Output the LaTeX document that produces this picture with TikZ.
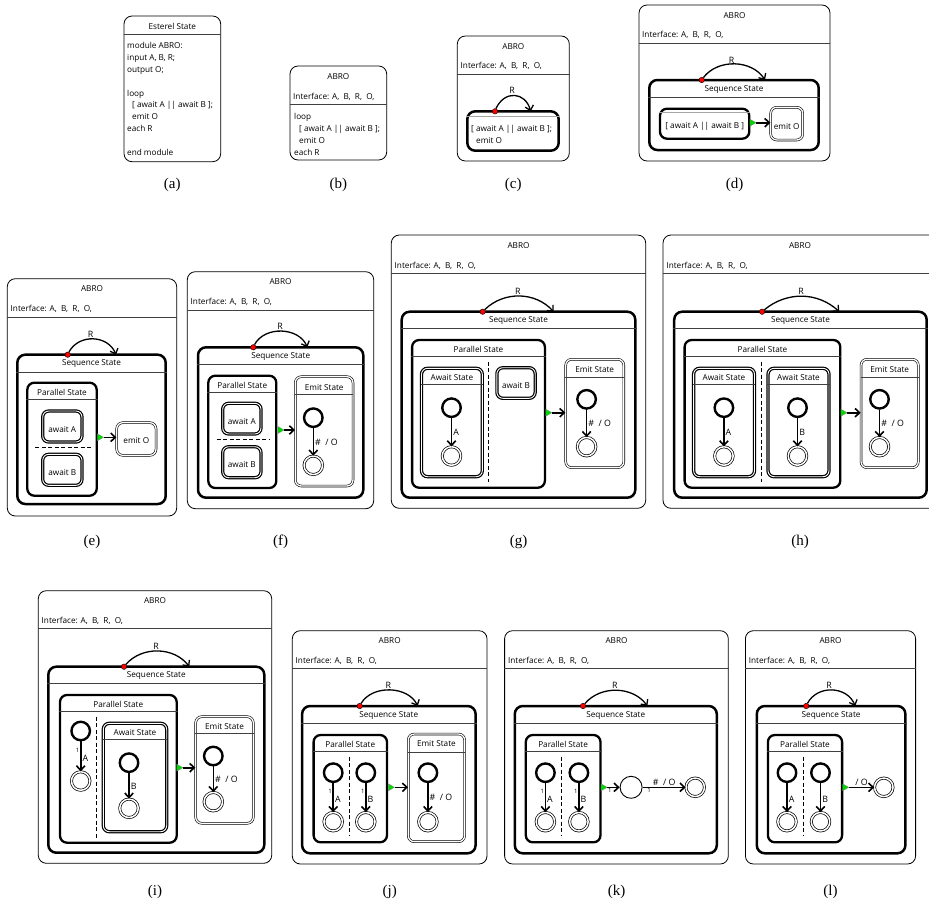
\documentclass[tikz,border=0pt]{standalone}
\usepackage{fontspec}
\newfontfamily\uifont{Open Sans}
\newfontfamily\capfont{Liberation Serif}
\usetikzlibrary{shapes.geometric, arrows.meta, positioning, fit, calc}

\begin{document}
\begin{tikzpicture}[x=1pt, y=-1pt,
    outer/.style={draw, line width=0.8pt, rounded corners=8pt, inner sep=0pt},
    seqst/.style={draw, line width=2.5pt, rounded corners=8pt, inner sep=0pt},
    parst/.style={draw, line width=2.3pt, rounded corners=7pt, inner sep=0pt},
    awaitst/.style={draw, double, line width=1.2pt, double distance=0.9pt, rounded corners=6pt, inner sep=0pt},
    emitst/.style={draw, double, line width=0.6pt, double distance=1.3pt, rounded corners=6pt, inner sep=0pt},
    initst/.style={circle, draw, line width=2.4pt, minimum size=18.5pt, inner sep=0pt},
    finst/.style={circle, draw, double, line width=0.7pt, double distance=1.5pt, minimum size=18.5pt, inner sep=0pt},
    midst/.style={circle, draw, line width=0.9pt, minimum size=22pt, inner sep=0pt},
    rdot/.style={circle, draw, fill=red, line width=0.4pt, minimum size=5.5pt, inner sep=0pt},
    donetri/.style={isosceles triangle, isosceles triangle stretches, fill=green!85!black, draw=black!50, line width=0.3pt, inner sep=0pt, minimum width=7pt, minimum height=6pt},
    ttl/.style={font=\uifont\fontsize{8.2}{9}\selectfont, inner sep=0pt},
    iface/.style={ttl, anchor=west},
    code/.style={font=\uifont\fontsize{8.2}{11.8}\selectfont, align=left, anchor=north west, inner sep=0pt},
    lbl/.style={font=\uifont\fontsize{8.8}{9}\selectfont, inner sep=1pt},
    tiny/.style={font=\uifont\fontsize{6}{6}\selectfont, inner sep=0.5pt},
    capt/.style={font=\capfont\fontsize{15}{16}\selectfont, inner sep=0pt},
    sepl/.style={line width=0.5pt, black!75},
    divider/.style={line width=0.8pt, dash pattern=on 4pt off 2.5pt},
    trans/.style={-{Straight Barb[length=4.5pt, width=8.5pt]}, line width=1.6pt},
    rarc/.style={-{Straight Barb[length=4.5pt, width=8.5pt]}, line width=1.3pt}
]
\path[use as bounding box, clip] (0,0) rectangle (929,908);

\node[outer, fit={(124,16) (220.7,161.7)}] (aO) {};
\node[ttl] (aT) at (172.3,26.7) {Esterel State};
\draw[sepl] ([yshift=-19pt]aO.north west) -- ([yshift=-19pt]aO.north east);
\node[code] (aC) at (127,42.5) {module ABRO:\\input A, B, R;\\output O;\\[11.8pt]loop\\\hspace*{5pt}[ await A || await B ];\\\hspace*{5pt}emit O\\each R\\[11.8pt]end module};
\node[capt] (aL) at (172.3,185) {(a)};

\node[outer, fit={(290,66) (386.7,160)}] (bO) {};
\node[ttl] (bT) at (338.3,76.5) {ABRO};
\node[iface] (bI) at (293,96.7) {Interface: A,~ B,~ R,~ O,};
\draw[sepl] ([yshift=-38.5pt]bO.north west) -- ([yshift=-38.5pt]bO.north east);
\node[code] (bC) at (294,113.5) {loop\\\hspace*{5pt}[ await A || await B ];\\\hspace*{5pt}emit O\\each R};
\node[capt] (bL) at (338.3,185) {(b)};

\node[outer, fit={(457.3,36) (569.3,161)}] (cO) {};
\node[ttl] (cT) at (513.3,46.3) {ABRO};
\node[iface] (cI) at (460.5,66.3) {Interface: A,~ B,~ R,~ O,};
\draw[sepl] ([yshift=-38.5pt]cO.north west) -- ([yshift=-38.5pt]cO.north east);
\node[seqst, fit={(467.3,111.3) (558.7,150.7)}] (cS) {};
\draw[sepl, black!35] ([yshift=-6pt]cS.north west) -- ([yshift=-6pt]cS.north east);
\node[code] (cC) at (471,125.5) {[ await A || await B ];\\\hspace*{5pt}emit O};
\node[rdot] (cR) at (495,111.3) {};
\coordinate (cRe) at (530.7,111.3);
\draw[rarc] (cR) to[bend left=70, looseness=1.5] (cRe);
\node[lbl] (cRl) at (512,90) {R};
\node[capt] (cL) at (513.3,185) {(c)};

\node[outer, fit={(639,5) (830,161)}] (dO) {};
\node[ttl] (dT) at (734.5,15.3) {ABRO};
\node[iface] (dI) at (642,35.3) {Interface: A,~ B,~ R,~ O,};
\draw[sepl] ([yshift=-38.5pt]dO.north west) -- ([yshift=-38.5pt]dO.north east);
\node[seqst, fit={(649.3,80) (818.7,150)}] (dS) {};
\node[ttl] (dSt) at (734,89.3) {Sequence State};
\draw[sepl] ([yshift=-18pt]dS.north west) -- ([yshift=-18pt]dS.north east);
\node[parst, fit={(660,108.7) (749.3,138.7)}] (dP) {};
\draw[sepl, black!35] ([yshift=-4.6pt]dP.north west) -- ([yshift=-4.6pt]dP.north east);
\node[ttl] (dPt) at (704.7,126.7) {[ await A || await B ]};
\node[emitst, fit={(770.7,107.3) (802.7,140)}] (dE) {};
\node[ttl] (dEt) at (786.7,126.7) {emit O};
\node[donetri] (dD) at (752,122.7) {};
\draw[trans] (dD) -- (dD -| dE.west);
\node[rdot] (dR) at (701.7,80) {};
\coordinate (dRe) at (765,80);
\draw[rarc] (dR) to[bend left=55] (dRe);
\node[lbl] (dRl) at (731.7,60) {R};
\node[capt] (dL) at (734.5,185) {(d)};

\node[outer, fit={(7.3,278.7) (176.7,516)}] (eO) {};
\node[ttl] (eT) at (92,289) {ABRO};
\node[iface] (eI) at (10.5,309) {Interface: A,~ B,~ R,~ O,};
\draw[sepl] ([yshift=-38.5pt]eO.north west) -- ([yshift=-38.5pt]eO.north east);
\node[seqst, fit={(17.3,354.7) (165.7,504)}] (eS) {};
\node[ttl] (eSt) at (91.5,364) {Sequence State};
\draw[sepl] ([yshift=-18.6pt]eS.north west) -- ([yshift=-18.6pt]eS.north east);
\node[parst, fit={(27.3,382.7) (96.7,495.7)}] (eP) {};
\node[ttl] (ePt) at (62,392.3) {Parallel State};
\draw[sepl] ([yshift=-18pt]eP.north west) -- ([yshift=-18pt]eP.north east);
\node[awaitst, fit={(42.7,411) (82,442)}] (eA) {};
\node[ttl] (eAt) at (62.3,429.3) {await A};
\draw[divider] (35,447) -- (90.7,447);
\node[awaitst, fit={(42.7,454.3) (82,485.3)}] (eB) {};
\node[ttl] (eBt) at (62.3,472.3) {await B};
\node[emitst, fit={(116.7,422.7) (156,455.3)}] (eE) {};
\node[ttl] (eEt) at (136.3,441) {emit O};
\node[donetri] (eD) at (99.5,437.3) {};
\draw[trans] (eD) -- (eD -| eE.west);
\node[rdot] (eR) at (67.7,354.7) {};
\coordinate (eRe) at (116,354.7);
\draw[rarc] (eR) to[bend left=65, looseness=1.15] (eRe);
\node[lbl] (eRl) at (90.7,334) {R};
\node[capt] (eL) at (92,542) {(e)};

\node[outer, fit={(187.3,271.7) (373.7,508.7)}] (fO) {};
\node[ttl] (fT) at (280.5,281.7) {ABRO};
\node[iface] (fI) at (190.5,301.7) {Interface: A,~ B,~ R,~ O,};
\draw[sepl] ([yshift=-38.5pt]fO.north west) -- ([yshift=-38.5pt]fO.north east);
\node[seqst, fit={(198,347.3) (363.3,497.7)}] (fS) {};
\node[ttl] (fSt) at (280.7,356.7) {Sequence State};
\draw[sepl] ([yshift=-18pt]fS.north west) -- ([yshift=-18pt]fS.north east);
\node[parst, fit={(208.3,375.7) (276.3,488)}] (fP) {};
\node[ttl] (fPt) at (242.3,385) {Parallel State};
\draw[sepl] ([yshift=-17.6pt]fP.north west) -- ([yshift=-17.6pt]fP.north east);
\node[awaitst, fit={(222.7,403.3) (261,434)}] (fA) {};
\node[ttl] (fAt) at (241.8,421.7) {await A};
\draw[divider] (216.7,439.3) -- (270,439.3);
\node[awaitst, fit={(222.7,446.7) (261,477.7)}] (fB) {};
\node[ttl] (fBt) at (241.8,465) {await B};
\node[emitst, fit={(295.3,376.7) (353,486)}] (fE) {};
\node[ttl] (fEt) at (324.2,387.3) {Emit State};
\draw[sepl] ([yshift=-18pt]fE.north west) -- ([yshift=-18pt]fE.north east);
\node[initst] (fE1) at (313.3,417.7) {};
\node[finst] (fE2) at (313.3,465.3) {};
\draw[trans] (fE1) -- node[lbl, right] (fEl) {\# ~/ O} (fE2);
\node[donetri] (fD) at (280,430) {};
\draw[trans] (fD) -- (fD -| fE.west);
\node[rdot] (fR) at (253.3,347.3) {};
\coordinate (fRe) at (307.3,347.3);
\draw[rarc] (fR) to[bend left=65, looseness=1.05] (fRe);
\node[lbl] (fRl) at (280,326.7) {R};
\node[capt] (fL) at (280.5,542) {(f)};

\node[outer, fit={(391.3,235) (645.7,508.3)}] (gO) {};
\node[ttl] (gT) at (518.5,245.7) {ABRO};
\node[iface] (gI) at (394.5,265.7) {Interface: A,~ B,~ R,~ O,};
\draw[sepl] ([yshift=-39pt]gO.north west) -- ([yshift=-39pt]gO.north east);
\node[seqst, fit={(401.7,311.7) (635.3,497.7)}] (gS) {};
\node[ttl] (gSt) at (518.5,321) {Sequence State};
\draw[sepl] ([yshift=-17.6pt]gS.north west) -- ([yshift=-17.6pt]gS.north east);
\node[parst, fit={(412.1,340) (544.9,487.7)}] (gP) {};
\node[ttl] (gPt) at (478.5,349) {Parallel State};
\draw[sepl] ([yshift=-17.7pt]gP.north west) -- ([yshift=-17.7pt]gP.north east);
\node[awaitst, fit={(421.5,368.3) (482.3,476.7)}] (gA) {};
\node[ttl] (gAt) at (451.9,378) {Await State};
\draw[sepl] ([yshift=-16.7pt]gA.north west) -- ([yshift=-16.7pt]gA.north east);
\node[initst] (gA1) at (451.5,407.7) {};
\node[finst] (gA2) at (451.5,456) {};
\draw[trans] (gA1) -- node[lbl, right] (gAl) {A} (gA2);
\draw[divider] (488.6,361.7) -- (488.6,481.7);
\node[awaitst, fit={(496.9,367.7) (535.2,398.3)}] (gB) {};
\node[ttl] (gBt) at (516,385.7) {await B};
\node[emitst, fit={(565.7,359.3) (623.8,467.7)}] (gE) {};
\node[ttl] (gEt) at (594.7,369.3) {Emit State};
\draw[sepl] ([yshift=-18pt]gE.north west) -- ([yshift=-18pt]gE.north east);
\node[initst] (gE1) at (586.6,399.3) {};
\node[finst] (gE2) at (586.6,446.7) {};
\draw[trans] (gE1) -- node[lbl, right] (gEl) {\# ~/ O} (gE2);
\node[donetri] (gD) at (547.8,412.7) {};
\draw[trans] (gD) -- (gD -| gE.west);
\node[rdot] (gR) at (482.7,311.7) {};
\coordinate (gRe) at (553.6,311.7);
\draw[rarc] (gR) to[bend left=46] (gRe);
\node[lbl] (gRl) at (517.8,291) {R};
\node[capt] (gL) at (518.5,542) {(g)};

\node[outer, fit={(663,235) (937,508.3)}] (hO) {};
\node[ttl] (hT) at (800,245.7) {ABRO};
\node[iface] (hI) at (666.3,265.7) {Interface: A,~ B,~ R,~ O,};
\draw[sepl] ([yshift=-39pt]hO.north west) -- ([yshift=-39pt]hO.north east);
\node[seqst, fit={(674.2,311.7) (926.7,497.7)}] (hS) {};
\node[ttl] (hSt) at (800.5,321) {Sequence State};
\draw[sepl] ([yshift=-17.6pt]hS.north west) -- ([yshift=-17.6pt]hS.north east);
\node[parst, fit={(684.6,340) (840.3,487.7)}] (hP) {};
\node[ttl] (hPt) at (762.5,349) {Parallel State};
\draw[sepl] ([yshift=-17.7pt]hP.north west) -- ([yshift=-17.7pt]hP.north east);
\node[awaitst, fit={(693.6,368.3) (754.5,476.7)}] (hA) {};
\node[ttl] (hAt) at (724,378) {Await State};
\draw[sepl] ([yshift=-16.7pt]hA.north west) -- ([yshift=-16.7pt]hA.north east);
\node[initst] (hA1) at (723.9,407.7) {};
\node[finst] (hA2) at (723.9,456) {};
\draw[trans] (hA1) -- node[lbl, right] (hAl) {A} (hA2);
\draw[divider] (761.1,361.7) -- (761.1,481.7);
\node[awaitst, fit={(768,368.3) (829,476.7)}] (hB) {};
\node[ttl] (hBt) at (798.5,378) {Await State};
\draw[sepl] ([yshift=-16.7pt]hB.north west) -- ([yshift=-16.7pt]hB.north east);
\node[initst] (hB1) at (797.5,407.7) {};
\node[finst] (hB2) at (797.5,456) {};
\draw[trans] (hB1) -- node[lbl, right] (hBl) {B} (hB2);
\node[emitst, fit={(861,359.3) (918.3,467.7)}] (hE) {};
\node[ttl] (hEt) at (889.7,369.3) {Emit State};
\draw[sepl] ([yshift=-18pt]hE.north west) -- ([yshift=-18pt]hE.north east);
\node[initst] (hE1) at (879.5,399.3) {};
\node[finst] (hE2) at (879.5,446.7) {};
\draw[trans] (hE1) -- node[lbl, right] (hEl) {\# ~/ O} (hE2);
\node[donetri] (hD) at (843,412.7) {};
\draw[trans] (hD) -- (hD -| hE.west);
\node[rdot] (hR) at (762.1,311.7) {};
\coordinate (hRe) at (839.3,311.7);
\draw[rarc] (hR) to[bend left=41] (hRe);
\node[lbl] (hRl) at (801,291) {R};
\node[capt] (hL) at (800,542) {(h)};

\node[outer, fit={(38.3,590.7) (271.7,863.3)}] (iO) {};
\node[ttl] (iT) at (155,601) {ABRO};
\node[iface] (iI) at (41.5,621) {Interface: A,~ B,~ R,~ O,};
\draw[sepl] ([yshift=-38.3pt]iO.north west) -- ([yshift=-38.3pt]iO.north east);
\node[seqst, fit={(48.3,666.7) (264.3,852.7)}] (iS) {};
\node[ttl] (iSt) at (156.3,676) {Sequence State};
\draw[sepl] ([yshift=-17.6pt]iS.north west) -- ([yshift=-17.6pt]iS.north east);
\node[parst, fit={(60,695) (176.7,842.7)}] (iP) {};
\node[ttl] (iPt) at (118.3,704) {Parallel State};
\draw[sepl] ([yshift=-17.7pt]iP.north west) -- ([yshift=-17.7pt]iP.north east);
\node[initst] (iP1) at (80.7,731) {};
\node[finst] (iP2) at (80.7,781) {};
\draw[trans] (iP1) -- node[tiny, left, pos=0.3] (iPn) {1} node[lbl, right, pos=0.55] (iPl) {A} (iP2);
\draw[divider] (96.7,716.7) -- (96.7,838.3);
\node[awaitst, fit={(103.3,723.3) (166.7,831.7)}] (iA) {};
\node[ttl] (iAt) at (135,733) {Await State};
\draw[sepl] ([yshift=-16.7pt]iA.north west) -- ([yshift=-16.7pt]iA.north east);
\node[initst] (iA1) at (129,762.7) {};
\node[finst] (iA2) at (129,808.3) {};
\draw[trans] (iA1) -- node[lbl, right] (iAl) {B} (iA2);
\node[emitst, fit={(195.7,716.7) (253.3,823.3)}] (iE) {};
\node[ttl] (iEt) at (224.5,726.5) {Emit State};
\draw[sepl] ([yshift=-16.6pt]iE.north west) -- ([yshift=-16.6pt]iE.north east);
\node[initst] (iE1) at (213.3,756) {};
\node[finst] (iE2) at (213.3,801.7) {};
\draw[trans] (iE1) -- node[lbl, right] (iEl) {\# ~/ O} (iE2);
\node[donetri] (iD) at (178.8,767.7) {};
\draw[trans] (iD) -- (iD -| iE.west);
\node[rdot] (iR) at (124,666.7) {};
\coordinate (iRe) at (189.3,666.7);
\draw[rarc] (iR) to[bend left=51] (iRe);
\node[lbl] (iRl) at (156,646.7) {R};
\node[capt] (iL) at (155,892) {(i)};

\node[outer, fit={(292.3,630.7) (487,864)}] (jO) {};
\node[ttl] (jT) at (389.7,640.7) {ABRO};
\node[iface] (jI) at (295.5,661) {Interface: A,~ B,~ R,~ O,};
\draw[sepl] ([yshift=-38.3pt]jO.north west) -- ([yshift=-38.3pt]jO.north east);
\node[seqst, fit={(302.1,706) (475.6,853.3)}] (jS) {};
\node[ttl] (jSt) at (388.8,715.3) {Sequence State};
\draw[sepl] ([yshift=-18pt]jS.north west) -- ([yshift=-18pt]jS.north east);
\node[parst, fit={(313.6,735) (387,842.3)}] (jP) {};
\node[ttl] (jPt) at (350.3,744) {Parallel State};
\draw[sepl] ([yshift=-17.7pt]jP.north west) -- ([yshift=-17.7pt]jP.north east);
\node[initst] (jA1) at (333.2,772.7) {};
\node[finst] (jA2) at (333.2,821.7) {};
\draw[trans] (jA1) -- node[tiny, left, pos=0.3] (jAn) {1} node[lbl, right, pos=0.55] (jAl) {A} (jA2);
\draw[divider] (349.1,756.7) -- (349.1,835);
\node[initst] (jB1) at (365.8,772.7) {};
\node[finst] (jB2) at (365.8,821.7) {};
\draw[trans] (jB1) -- node[tiny, left, pos=0.3] (jBn) {1} node[lbl, right, pos=0.55] (jBl) {B} (jB2);
\node[emitst, fit={(408.3,734) (464.6,841.7)}] (jE) {};
\node[ttl] (jEt) at (436.4,744) {Emit State};
\draw[sepl] ([yshift=-18.7pt]jE.north west) -- ([yshift=-18.7pt]jE.north east);
\node[initst] (jE1) at (427.9,772.7) {};
\node[finst] (jE2) at (427.9,821.7) {};
\draw[trans] (jE1) -- node[lbl, right] (jEl) {\# ~/ O} (jE2);
\node[donetri] (jD) at (390.4,787.3) {};
\draw[trans] (jD) -- (jD -| jE.west);
\node[rdot] (jR) at (359.7,706) {};
\coordinate (jRe) at (417.7,706);
\draw[rarc] (jR) to[bend left=62] (jRe);
\node[lbl] (jRl) at (388.3,685.3) {R};
\node[capt] (jL) at (389.7,892) {(j)};

\node[outer, fit={(504.6,630.7) (728.3,864)}] (kO) {};
\node[ttl] (kT) at (616.5,640.7) {ABRO};
\node[iface] (kI) at (507.9,661) {Interface: A,~ B,~ R,~ O,};
\draw[sepl] ([yshift=-38.3pt]kO.north west) -- ([yshift=-38.3pt]kO.north east);
\node[seqst, fit={(514.8,706) (716.8,853.3)}] (kS) {};
\node[ttl] (kSt) at (615.8,715.3) {Sequence State};
\draw[sepl] ([yshift=-18pt]kS.north west) -- ([yshift=-18pt]kS.north east);
\node[parst, fit={(525.8,735) (600.5,842.3)}] (kP) {};
\node[ttl] (kPt) at (563.1,744) {Parallel State};
\draw[sepl] ([yshift=-17.7pt]kP.north west) -- ([yshift=-17.7pt]kP.north east);
\node[initst] (kA1) at (545.4,772.7) {};
\node[finst] (kA2) at (545.4,821.7) {};
\draw[trans] (kA1) -- node[tiny, left, pos=0.3] (kAn) {1} node[lbl, right, pos=0.55] (kAl) {A} (kA2);
\draw[divider] (561.7,756.7) -- (561.7,835);
\node[initst] (kB1) at (578.9,772.7) {};
\node[finst] (kB2) at (578.9,821.7) {};
\draw[trans] (kB1) -- node[tiny, left, pos=0.3] (kBn) {1} node[lbl, right, pos=0.55] (kBl) {B} (kB2);
\node[donetri] (kD) at (603.1,787.3) {};
\node[midst] (kM) at (631.1,787.3) {};
\node[finst] (kF) at (695.2,787.3) {};
\draw[trans] (kD) -- node[tiny, below, pos=0.2] (kDn) {1} (kM);
\draw[trans] (kM) -- node[lbl, above] (kMl) {\# ~/ O} node[tiny, below, pos=0.15] (kMn) {1} (kF);
\node[rdot] (kR) at (583,706) {};
\coordinate (kRe) at (647.4,706);
\draw[rarc] (kR) to[bend left=52] (kRe);
\node[lbl] (kRl) at (614.8,685.3) {R};
\node[capt] (kL) at (616.5,892) {(k)};

\node[outer, fit={(745.4,630.7) (915.6,864)}] (lO) {};
\node[ttl] (lT) at (830.5,640.7) {ABRO};
\node[iface] (lI) at (748.7,661) {Interface: A,~ B,~ R,~ O,};
\draw[sepl] ([yshift=-38.3pt]lO.north west) -- ([yshift=-38.3pt]lO.north east);
\node[seqst, fit={(756.8,706) (905.4,853.3)}] (lS) {};
\node[ttl] (lSt) at (831.1,715.3) {Sequence State};
\draw[sepl] ([yshift=-18pt]lS.north west) -- ([yshift=-18pt]lS.north east);
\node[parst, fit={(767.9,735) (842.1,842.3)}] (lP) {};
\node[ttl] (lPt) at (805,744) {Parallel State};
\draw[sepl] ([yshift=-17.7pt]lP.north west) -- ([yshift=-17.7pt]lP.north east);
\node[initst] (lA1) at (787,772.7) {};
\node[finst] (lA2) at (787,821.7) {};
\draw[trans] (lA1) -- node[lbl, right, pos=0.55] (lAl) {A} (lA2);
\draw[divider] (803.4,756.7) -- (803.4,835);
\node[initst] (lB1) at (820.5,772.7) {};
\node[finst] (lB2) at (820.5,821.7) {};
\draw[trans] (lB1) -- node[lbl, right, pos=0.55] (lBl) {B} (lB2);
\node[donetri] (lD) at (844.7,787.3) {};
\node[finst] (lF) at (883.8,787.3) {};
\draw[trans] (lD) -- node[lbl, above] (lDl) {/ O} (lF);
\node[rdot] (lR) at (806.2,706) {};
\coordinate (lRe) at (855.2,706);
\draw[rarc] (lR) to[bend left=65, looseness=1.15] (lRe);
\node[lbl] (lRl) at (829.1,685.3) {R};
\node[capt] (lL) at (830.5,892) {(l)};
\end{tikzpicture}
\end{document}
